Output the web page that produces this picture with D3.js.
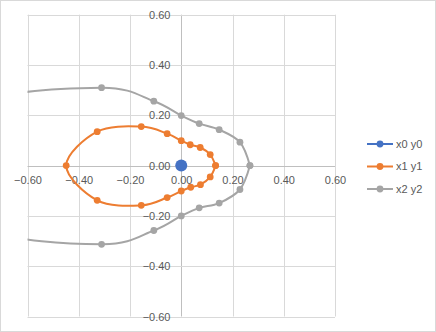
<!DOCTYPE html>
<html>
<head>
<meta charset="utf-8">
<script src="https://cdn.jsdelivr.net/npm/d3@7"></script>
<style>
  html, body { margin: 0; padding: 0; background: #fff; }
  svg { display: block; font-family: "Liberation Sans", Arial, sans-serif; }
</style>
</head>
<body>
<svg id="chart" width="436" height="332"></svg>
<script>
// Series: x/y coordinate pairs, in drawing order
const seriesNames = ["x0 y0", "x1 y1", "x2 y2"];
const seriesColors = ["#4472C4", "#ED7D31", "#A5A5A5"];

const x0 = [0];
const y0 = [0];

const x1 = [0.134, 0.113, 0.074, 0.035, 0.000, -0.055, -0.156, -0.328, -0.449,
            -0.328, -0.156, -0.055, 0.000, 0.037, 0.075, 0.113, 0.134];
const y1 = [0.000, 0.044, 0.072, 0.083, 0.099, 0.127, 0.155, 0.135, 0.000,
            -0.138, -0.158, -0.127, -0.101, -0.086, -0.076, -0.045, 0.000];

const x2 = [0.268, 0.229, 0.148, 0.070, 0.000, -0.107, -0.311, -0.780, -1.000,
            -0.780, -0.311, -0.107, 0.000, 0.070, 0.148, 0.229, 0.268];
const y2 = [0.000, 0.093, 0.143, 0.167, 0.199, 0.256, 0.310, 0.250, 0.000,
            -0.250, -0.313, -0.258, -0.200, -0.168, -0.149, -0.095, 0.000];

const tickValues = [-0.6, -0.4, -0.2, 0, 0.2, 0.4, 0.6];

const svg = d3.select("#chart");
const W = 436, H = 332;

// chart frame
svg.append("rect")
  .attr("x", 0.5).attr("y", 0.5)
  .attr("width", W - 1).attr("height", H - 1)
  .attr("fill", "#fff").attr("stroke", "#d9d9d9");

const x = d3.scaleLinear().domain([-0.6, 0.6]).range([27.5, 335]);
const y = d3.scaleLinear().domain([-0.6, 0.6]).range([316.5, 14.7]);

svg.append("clipPath").attr("id", "plot-clip")
  .append("rect")
  .attr("x", x(-0.6)).attr("y", y(0.6))
  .attr("width", x(0.6) - x(-0.6)).attr("height", y(-0.6) - y(0.6));

// gridlines
const grid = svg.append("g");
grid.selectAll("line.v").data(tickValues).join("line")
  .attr("x1", d => Math.round(x(d)) + 0.5).attr("x2", d => Math.round(x(d)) + 0.5)
  .attr("y1", y(0.6)).attr("y2", y(-0.6))
  .attr("stroke", d => d === 0 ? "#bfbfbf" : "#d9d9d9");
grid.selectAll("line.h").data(tickValues).join("line")
  .attr("y1", d => Math.round(y(d)) + 0.5).attr("y2", d => Math.round(y(d)) + 0.5)
  .attr("x1", x(-0.6)).attr("x2", x(0.6))
  .attr("stroke", d => d === 0 ? "#bfbfbf" : "#d9d9d9");

// axes crossing at zero, labels only
const fmt = d3.format(".2f");
const xAxis = d3.axisBottom(x).tickValues(tickValues).tickFormat(fmt).tickSize(0).tickPadding(10);
const yAxis = d3.axisLeft(y).tickValues(tickValues).tickFormat(fmt).tickSize(0).tickPadding(11);

const gx = svg.append("g").attr("transform", `translate(0,${Math.round(y(0)) + 0.5})`).call(xAxis);
const gy = svg.append("g").attr("transform", `translate(${Math.round(x(0)) + 0.5},0)`).call(yAxis);
[gx, gy].forEach(g => {
  g.select(".domain").remove();
  g.selectAll("text").attr("fill", "#595959").style("font-size", "11px")
    .style("font-family", "'Liberation Sans', Arial, sans-serif");
});

// series
const data = [
  d3.zip(x0, y0),
  d3.zip(x1, y1),
  d3.zip(x2, y2)
];

const line = d3.line()
  .x(d => x(d[0])).y(d => y(d[1]))
  .curve(d3.curveCardinal.tension(0));

const plot = svg.append("g").attr("clip-path", "url(#plot-clip)");
data.forEach((pts, i) => {
  if (pts.length > 1) {
    plot.append("path")
      .attr("d", line(pts))
      .attr("fill", "none")
      .attr("stroke", seriesColors[i])
      .attr("stroke-width", 2);
  }
});
data.forEach((pts, i) => {
  plot.selectAll(null).data(pts).join("circle")
    .attr("cx", d => x(d[0])).attr("cy", d => y(d[1]))
    .attr("r", i === 0 ? 6 : 3.4)
    .attr("fill", seriesColors[i]);
});

// legend
const legend = svg.append("g");
const legendY = [144, 166.5, 189];
seriesNames.forEach((name, i) => {
  const g = legend.append("g").attr("transform", `translate(0,${legendY[i]})`);
  g.append("line").attr("x1", 367).attr("x2", 393).attr("y1", 0).attr("y2", 0)
    .attr("stroke", seriesColors[i]).attr("stroke-width", 2);
  g.append("circle").attr("cx", 380).attr("cy", 0).attr("r", 3.4).attr("fill", seriesColors[i]);
  g.append("text").attr("x", 396).attr("y", 0).attr("dy", "0.35em")
    .attr("fill", "#595959").style("font-size", "11px").text(name);
});
</script>
</body>
</html>
